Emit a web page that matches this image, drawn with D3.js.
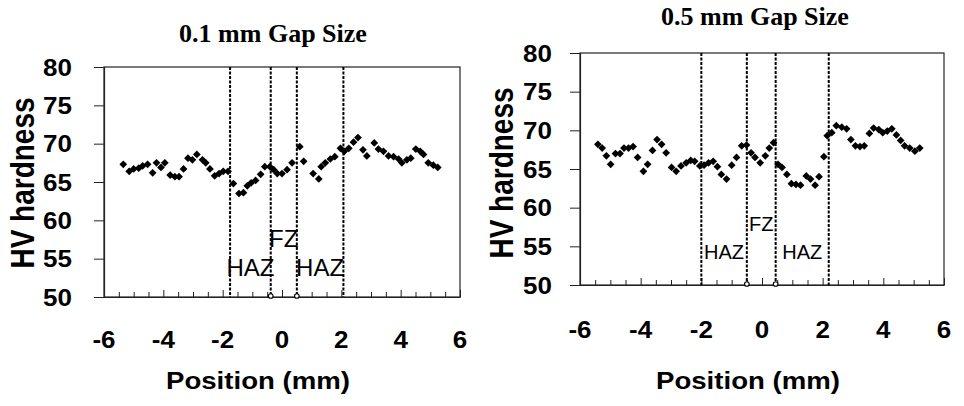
<!DOCTYPE html>
<html><head><meta charset="utf-8">
<script src="https://cdn.jsdelivr.net/npm/d3@7"></script>
<style>body{margin:0;background:#fff}svg{display:block}</style>
</head><body>
<script>
// ---------- data ----------
const titles = ["0.1 mm Gap Size", "0.5 mm Gap Size"];
const yTicks = [50, 55, 60, 65, 70, 75, 80];
const xTicks = [-6, -4, -2, 0, 2, 4, 6];
const yLabel = "HV hardness";
const xLabel = "Position (mm)";
const zoneLabels = ["HAZ", "FZ", "HAZ"];

const leftPos = [-5.35,-5.15,-5.0,-4.83,-4.70,-4.53,-4.36,-4.23,-4.08,-3.95,-3.77,-3.61,-3.47,-3.32,-3.17,-3.02,-2.87,-2.68,-2.57,-2.43,-2.27,-2.12,-1.98,-1.82,-1.64,-1.45,-1.30,-1.17,-1.04,-0.89,-0.72,-0.58,-0.41,-0.28,-0.16,0.0,0.17,0.34,0.60,0.73,1.05,1.24,1.32,1.46,1.63,1.78,1.97,2.10,2.25,2.41,2.56,2.73,2.86,3.11,3.25,3.42,3.59,3.76,3.93,4.04,4.21,4.34,4.51,4.66,4.77,4.93,5.10,5.25];
const leftHV  = [67.3,66.4,66.7,66.8,67.1,67.3,66.2,67.5,66.9,67.5,65.9,65.7,65.7,66.7,68.1,67.9,68.6,67.9,67.5,66.7,65.8,66.1,66.4,66.4,64.8,63.5,63.6,64.5,64.9,65.2,66.0,67.0,67.0,66.6,66.1,66.1,66.6,67.5,69.6,67.7,66.1,65.4,67.0,67.5,68.0,68.3,69.4,69.0,69.4,70.2,70.8,69.2,68.4,70.1,69.3,69.0,68.4,68.3,68.0,67.5,67.9,68.1,69.3,69.0,68.6,67.5,67.2,66.9];

const rightPos = [-5.41,-5.27,-5.13,-4.99,-4.83,-4.68,-4.55,-4.40,-4.25,-4.10,-3.91,-3.77,-3.61,-3.46,-3.31,-3.16,-2.98,-2.83,-2.67,-2.50,-2.35,-2.22,-2.05,-1.91,-1.76,-1.61,-1.47,-1.34,-1.17,-1.00,-0.84,-0.67,-0.51,-0.36,-0.23,-0.06,0.11,0.24,0.38,0.53,0.66,0.82,0.97,1.12,1.27,1.46,1.60,1.75,1.88,2.04,2.15,2.30,2.45,2.63,2.79,2.93,3.08,3.23,3.37,3.54,3.68,3.85,3.98,4.13,4.28,4.43,4.57,4.70,4.87,5.04,5.20];
const rightHV  = [68.2,67.7,66.7,65.6,67.0,67.0,67.7,67.7,67.9,66.5,64.7,65.6,67.4,68.8,68.2,67.1,65.2,64.7,65.4,65.8,66.1,66.0,65.4,65.5,65.8,66.0,65.3,64.3,63.7,65.5,66.5,68.0,68.1,67.1,66.5,65.8,66.7,67.7,68.4,65.6,65.2,64.3,63.1,63.0,62.9,64.1,63.7,62.9,64.0,66.6,69.3,69.7,70.6,70.4,70.2,68.8,68.0,67.9,68.0,69.6,70.3,70.1,69.7,69.9,70.2,69.4,68.7,68.0,67.7,67.3,67.7];

const leftZoneBounds  = [-1.75, -0.38, 0.5, 2.07];
const rightZoneBounds = [-2.0, -0.5, 0.45, 2.2];

// ---------- layout ----------
const W = 964, H = 406;
const svg = d3.select("body").append("svg").attr("width", W).attr("height", H);

const panels = [
  {title: titles[0], xs: leftPos, ys: leftHV, bounds: leftZoneBounds,
   x0: 104, x1: 460, yTop: 67, yBot: 297,
   titleX: 273, titleY: 42, yLabRight: 72, yTitleX: 34, yTitleY: 183,
   xLabY: 348, xTitleX: 258, xTitleY: 389, hazY: 276, fzY: 247, zoneFont: 24},
  {title: titles[1], xs: rightPos, ys: rightHV, bounds: rightZoneBounds,
   x0: 580, x1: 944, yTop: 53, yBot: 285,
   titleX: 755, titleY: 25, yLabRight: 552, yTitleX: 513, yTitleY: 173,
   xLabY: 338, xTitleX: 748, xTitleY: 389, hazY: 259, fzY: 231, zoneFont: 20}
];

const sans = "'Liberation Sans', Arial, sans-serif";
const serif = "'Liberation Serif', 'Times New Roman', serif";

function stretchedText(g, x, y, txt, size, sx, anchor) {
  return g.append("text")
    .attr("transform", `translate(${x},${y}) scale(${sx},1)`)
    .attr("text-anchor", anchor)
    .attr("font-family", sans).attr("font-weight", "bold")
    .attr("font-size", size).attr("fill", "#000").text(txt);
}

panels.forEach(p => {
  const g = svg.append("g");
  const x = d3.scaleLinear().domain([-6, 6]).range([p.x0, p.x1]);
  const y = d3.scaleLinear().domain([50, 80]).range([p.yBot, p.yTop]);

  // title
  g.append("text").attr("x", p.titleX).attr("y", p.titleY)
    .attr("text-anchor", "middle").attr("font-family", serif)
    .attr("font-weight", "bold").attr("font-size", 26).text(p.title);

  // frame
  g.append("rect").attr("x", p.x0).attr("y", p.yTop)
    .attr("width", p.x1 - p.x0).attr("height", p.yBot - p.yTop)
    .attr("fill", "none").attr("stroke", "#222").attr("stroke-width", 1.2);

  // y axis ticks (outside) + labels
  const yAxis = d3.axisLeft(y).tickValues(yTicks).tickSize(10).tickFormat("");
  const ya = g.append("g").attr("transform", `translate(${p.x0},0)`).call(yAxis);
  ya.select(".domain").attr("stroke", "#222").attr("stroke-width", 1.2);
  ya.selectAll(".tick line").attr("stroke", "#222");
  yTicks.forEach(t => {
    stretchedText(g, p.yLabRight, y(t) + 8.5, String(t), 23, 1.13, "end");
  });

  // x axis minor ticks (inside, upward)
  const minor = d3.range(-6, 6.01, 0.5);
  const xAxis = d3.axisBottom(x).tickValues(minor)
    .tickSizeInner(-5).tickSizeOuter(0).tickFormat("");
  const xa = g.append("g").attr("transform", `translate(0,${p.yBot})`).call(xAxis);
  xa.select(".domain").attr("stroke", "#222").attr("stroke-width", 1.2);
  xa.selectAll(".tick line").attr("stroke", "#222")
    .attr("y2", d => (Math.abs(d % 2) < 1e-9 ? -7 : -5));
  xTicks.forEach(t => {
    stretchedText(g, x(t), p.xLabY, String(t), 23, 1.13, "middle");
  });

  // axis titles
  stretchedText(g, p.xTitleX, p.xTitleY, xLabel, 24, 1.15, "middle");
  g.append("text")
    .attr("transform", `translate(${p.yTitleX},${p.yTitleY}) rotate(-90) scale(1,1.18)`)
    .attr("text-anchor", "middle").attr("font-family", sans)
    .attr("font-weight", "bold").attr("font-size", 28).text(yLabel);

  // zone dashed lines
  g.selectAll(".zl").data(p.bounds).enter().append("line")
    .attr("x1", d => x(d)).attr("x2", d => x(d))
    .attr("y1", p.yTop).attr("y2", p.yBot)
    .attr("stroke", "#000").attr("stroke-width", 2)
    .attr("stroke-dasharray", "3,1.5");
  // small circles at the FZ boundaries
  g.selectAll(".zc").data(p.bounds.slice(1, 3)).enter().append("circle")
    .attr("cx", d => x(d)).attr("cy", p.yBot - 1).attr("r", 2.3)
    .attr("fill", "#fff").attr("stroke", "#000").attr("stroke-width", 1.1);

  // zone labels
  const mids = [0, 1, 2].map(i => (p.bounds[i] + p.bounds[i + 1]) / 2);
  zoneLabels.forEach((lab, i) => {
    g.append("text").attr("x", x(mids[i])).attr("y", i === 1 ? p.fzY : p.hazY)
      .attr("text-anchor", "middle").attr("font-family", sans)
      .attr("font-size", p.zoneFont).attr("fill", "#000").text(lab);
  });

  // data markers (diamonds)
  const sym = d3.symbol().type(d3.symbolSquare).size(30);
  g.selectAll(".pt").data(p.xs.map((v, i) => [v, p.ys[i]])).enter()
    .append("path").attr("d", sym)
    .attr("transform", d => `translate(${x(d[0])},${y(d[1])}) rotate(45)`)
    .attr("fill", "#000");
});
</script>
</body></html>
